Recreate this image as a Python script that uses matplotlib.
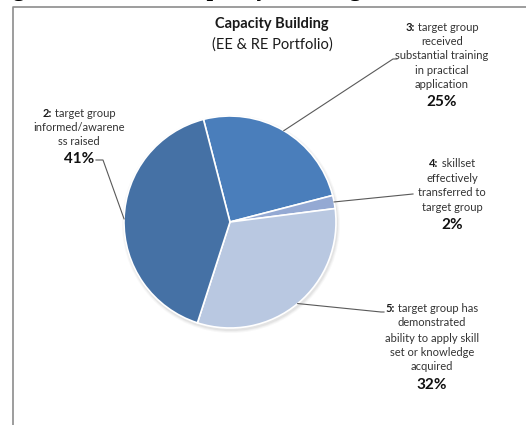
import matplotlib.pyplot as plt
from matplotlib.patches import Circle
import numpy as np

plt.rcParams['font.family'] = ['Lato', 'DejaVu Sans']

# slices in clockwise order starting from the top-left edge
nums = ["3:", "4:", "5:", "2:"]
texts = [
    ["target group", "received", "substantial training", "in practical", "application"],
    ["skillset", "effectively", "transferred to", "target group"],
    ["target group has", "demonstrated", "ability to apply skill", "set or knowledge", "acquired"],
    ["target group", "informed/awarene", "ss raised"],
]
values = [25, 2, 32, 41]
colors = ["#4a7ebb", "#94a9d3", "#b9c8e1", "#4571a5"]

W, H = 526, 425
fig = plt.figure(figsize=(W / 100, H / 100), dpi=100)
ax = fig.add_axes([0, 0, 1, 1])

def Y(y):
    return H - y

cx, cy, r = 230, Y(222), 106

# soft shadow under the pie
for i, a in enumerate([0.05, 0.07, 0.1]):
    ax.add_patch(Circle((cx + 1, cy - 2), r + 3 - i, color='#7f7f7f', alpha=a, lw=0, zorder=1))

wedges, _ = ax.pie(values, colors=colors, startangle=104.5, counterclock=False,
                   center=(cx, cy), radius=r, frame=True,
                   wedgeprops=dict(edgecolor='white', linewidth=1.2))
for w in wedges:
    w.set_zorder(2)
ax.set_xlim(0, W)
ax.set_ylim(0, H)
ax.set_aspect('auto')
ax.axis('off')

fig.canvas.draw()
renderer = fig.canvas.get_renderer()

def mixed(x, y, bold, rest, size=8):
    t1 = ax.text(0, 0, bold, fontsize=size, weight='bold', color='#1a1a1a', va='center')
    t2 = ax.text(0, 0, " " + rest, fontsize=size, color='#333333', va='center')
    w1 = t1.get_window_extent(renderer).width
    w2 = t2.get_window_extent(renderer).width
    x0 = x - (w1 + w2) / 2
    t1.set_position((x0, y))
    t2.set_position((x0 + w1, y))

# label blocks: centre x, line y's, percent y
blocks = [
    (442, [27, 41, 55, 70, 84], 102),
    (452, [163, 178, 192, 207], 225),
    (432, [309, 323, 338, 353, 367], 385),
    (79, [113, 127, 141], 159),
]
for k, (bx, ys, py) in enumerate(blocks):
    lines = texts[k]
    mixed(bx, Y(ys[0]), nums[k], lines[0])
    for ln, yy in zip(lines[1:], ys[1:]):
        ax.text(bx, Y(yy), ln, fontsize=8, color='#333333', ha='center', va='center')
    ax.text(bx, Y(py), f"{values[k]}%", fontsize=11, weight='bold', color='#111111',
            ha='center', va='center')

# leader lines from wedge middles to the labels
elbows = [[(393, 59), (397, 59)], [(413, 194)], [(381, 312), (384, 312)], [(103, 160), (96, 160)]]
for w, pts in zip(wedges, elbows):
    ang = np.deg2rad((w.theta1 + w.theta2) / 2)
    px, py = cx + r * np.cos(ang), cy + r * np.sin(ang)
    xs = [px] + [p[0] for p in pts]
    ys = [py] + [Y(p[1]) for p in pts]
    ax.plot(xs, ys, color='#595959', lw=0.8, zorder=3)

ax.text(272, Y(24), "Capacity Building", fontsize=10.5, weight='bold', color='#1a1a1a',
        ha='center', va='center')
ax.text(272, Y(45), "(EE & RE Portfolio)", fontsize=10.5, color='#1a1a1a',
        ha='center', va='center')

# frame of the chart area
ax.plot([13, 13, W], [0, Y(7), Y(7)], color='#8c8c8c', lw=1.2, clip_on=False)

# caption above the frame, mostly cut off
ax.text(-8, Y(-4), "Figure 6: Results: Capacity Building Profile", fontsize=17, weight='bold',
        family='Liberation Serif', ha='left', va='baseline', color='black')

fig.savefig('out.png', dpi=100)
